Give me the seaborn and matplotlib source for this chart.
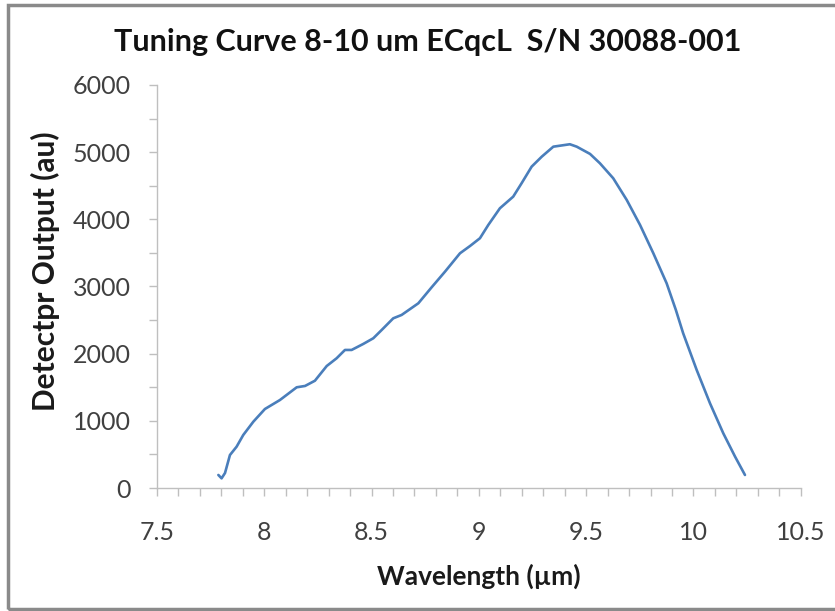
import matplotlib
matplotlib.use("Agg")
import matplotlib.pyplot as plt
import seaborn as sns
import pandas as pd
from matplotlib.ticker import MultipleLocator
from matplotlib.patches import Rectangle

sns.set_theme(style="white")
plt.rcParams['font.family'] = ['Lato', 'DejaVu Sans']

title = "Tuning Curve 8-10 um ECqcL  S/N 30088-001"
x_label = "Wavelength (µm)"
y_label = "Detectpr Output (au)"

wavelength = [7.786, 7.801, 7.817, 7.840, 7.871, 7.902, 7.949, 8.003, 8.073, 8.151,
              8.190, 8.236, 8.291, 8.337, 8.376, 8.407, 8.461, 8.508, 8.547, 8.601,
              8.640, 8.718, 8.780, 8.842, 8.912, 8.959, 9.005, 9.044, 9.098, 9.160,
              9.199, 9.246, 9.293, 9.347, 9.424, 9.456, 9.518, 9.564, 9.626, 9.689,
              9.751, 9.813, 9.875, 9.918, 9.952, 10.015, 10.077, 10.139, 10.194, 10.240]
output = [194, 144, 223, 491, 615, 789, 987, 1176, 1310, 1499,
          1519, 1597, 1816, 1931, 2055, 2055, 2144, 2229, 2352, 2526,
          2576, 2750, 2988, 3220, 3494, 3603, 3718, 3916, 4164, 4337,
          4536, 4784, 4932, 5081, 5117, 5081, 4973, 4834, 4611, 4288,
          3916, 3494, 3047, 2650, 2303, 1757, 1261, 814, 466, 194]

x_ticks = [7.5, 8, 8.5, 9, 9.5, 10, 10.5]
x_tick_labels = ["7.5", "8", "8.5", "9", "9.5", "10", "10.5"]
y_ticks = [0, 1000, 2000, 3000, 4000, 5000, 6000]
y_tick_labels = ["0", "1000", "2000", "3000", "4000", "5000", "6000"]

df = pd.DataFrame({"wavelength": wavelength, "output": output})

fig = plt.figure(figsize=(8.35, 6.11), dpi=100)
ax = fig.add_axes([0.188, 0.2013, 0.771, 0.6597])

sns.lineplot(data=df, x="wavelength", y="output", ax=ax, color="#4A7EBB",
             linewidth=1.9, sort=False)

ax.set_xlim(7.5, 10.5)
ax.set_ylim(0, 6000)
ax.xaxis.set_minor_locator(MultipleLocator(0.1))
ax.yaxis.set_minor_locator(MultipleLocator(500))
ax.set_xticks(x_ticks)
ax.set_xticklabels(x_tick_labels)
ax.set_yticks(y_ticks)
ax.set_yticklabels(y_tick_labels)

for s in ["top", "right"]:
    ax.spines[s].set_visible(False)
for s in ["left", "bottom"]:
    ax.spines[s].set_color("#BFBFBF")
    ax.spines[s].set_linewidth(1.0)

ax.tick_params(axis="both", which="both", direction="out", color="#BFBFBF",
               width=1.0, length=6, bottom=True, left=True)
ax.tick_params(axis="both", which="major", labelsize=18, labelcolor="#404040")
ax.tick_params(axis="x", which="major", pad=18)
ax.tick_params(axis="y", which="major", pad=13)

ax.set_xlabel(x_label, fontsize=19, fontweight="bold", color="#1a1a1a", labelpad=14)
ax.set_ylabel(y_label, fontsize=21.5, fontweight="bold", color="#1a1a1a")
ax.yaxis.set_label_coords(-0.150, 0.538)
fig.text(0.512, 0.931, title, ha="center", va="center", fontsize=22,
         fontweight="bold", color="#111111")

fig.patches.append(Rectangle((0.009, 0.003), 1.2, 0.989, transform=fig.transFigure,
                             fill=False, edgecolor="#8a8a8a", linewidth=2.5))

fig.savefig("out.png", dpi=100)
